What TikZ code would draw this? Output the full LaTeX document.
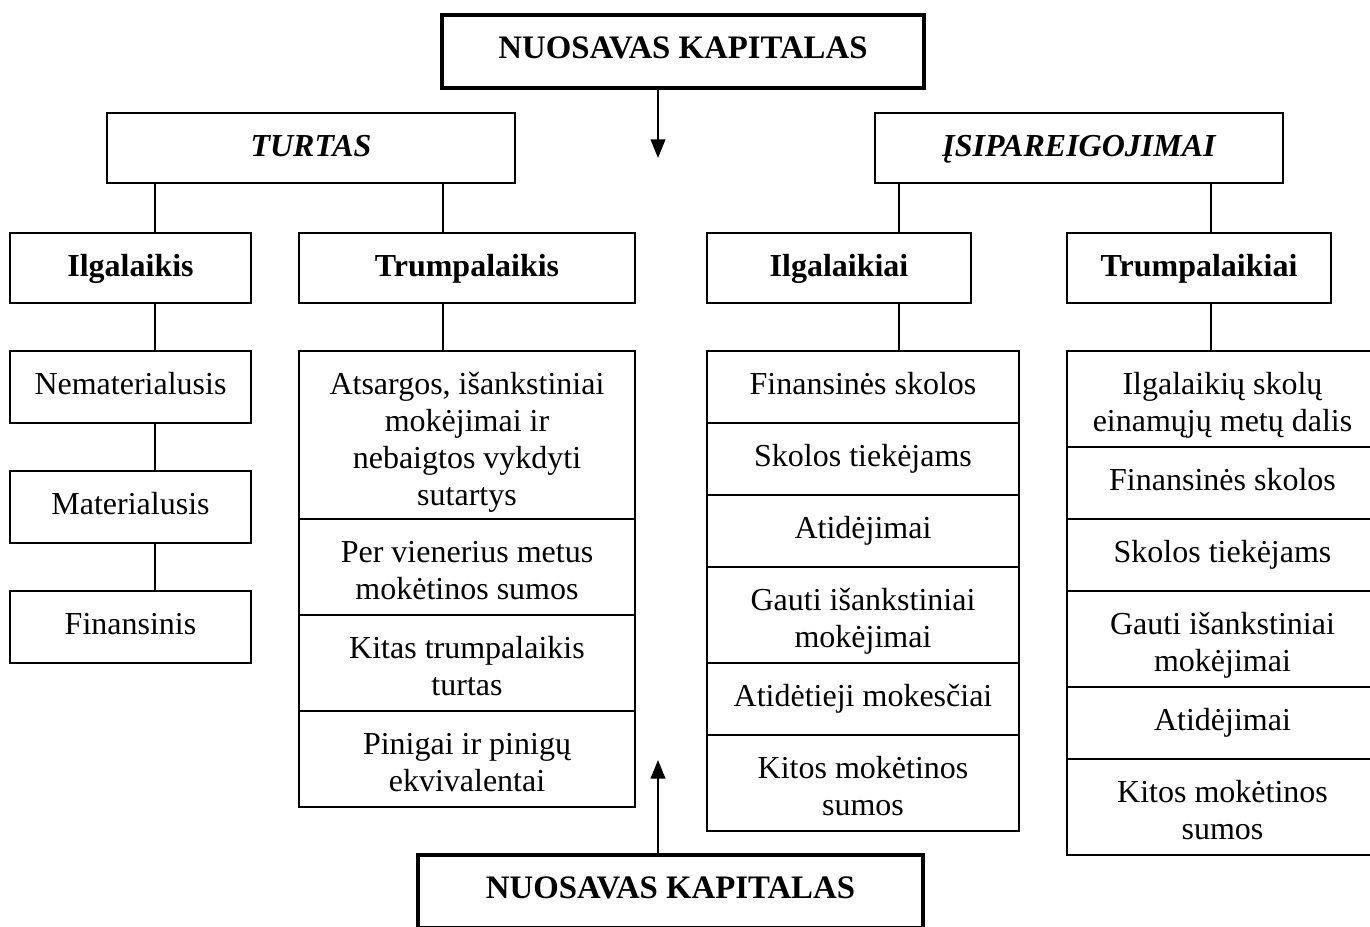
\documentclass[tikz,border=0pt]{standalone}
\usepackage{fontspec}
\setmainfont{Liberation Serif}
\usetikzlibrary{arrows.meta}
\begin{document}
\begin{tikzpicture}[x=0.75pt,y=-0.75pt,
  pbox/.style 2 args={draw, line width=1.5pt, inner sep=0pt, outer sep=0pt,
    minimum width=#1*0.75pt, minimum height=#2*0.75pt},
  capbox/.style 2 args={pbox={#1}{#2}, line width=3pt},
  txt/.style={anchor=north, inner sep=0pt, outer sep=0pt, align=center,
    yshift=-13.2pt, font=\fontsize{24}{27.75}\selectfont},
  headtxt/.style={txt, font=\fontsize{24}{27.75}\selectfont\bfseries},
  grouptxt/.style={txt, font=\fontsize{24}{27.75}\selectfont\bfseries\itshape},
  captxt/.style={txt, font=\fontsize{24.6}{27.75}\selectfont\bfseries},
  link/.style={line width=1.5pt},
  arr/.style={line width=1.5pt, -{Triangle[width=11pt,length=14pt]}}]
\useasboundingbox (0,0) rectangle (1370,926);

% equity boxes
\node[capbox={482}{73}] (top) at (683,51.5) {};
\node[captxt] (topt) at (top.north) {\strut NUOSAVAS KAPITALAS};
\node[capbox={505}{73}] (bot) at (670.5,891.5) {};
\node[captxt] (bott) at (bot.north) {\strut NUOSAVAS KAPITALAS};

% main groups
\node[pbox={408}{70}] (turtas) at (311,148) {};
\node[grouptxt] (turtast) at (turtas.north) {\strut TURTAS};
\node[pbox={408}{70}] (isip) at (1079,148) {};
\node[grouptxt] (isipt) at (isip.north) {\strut ĮSIPAREIGOJIMAI};

% sub groups
\node[pbox={241}{70}] (ilg) at (130.5,268) {};
\node[headtxt] (ilgt) at (ilg.north) {\strut Ilgalaikis};
\node[pbox={336}{70}] (trump) at (467,268) {};
\node[headtxt] (trumpt) at (trump.north) {\strut Trumpalaikis};
\node[pbox={264}{70}] (ilgai) at (839,268) {};
\node[headtxt] (ilgait) at (ilgai.north) {\strut Ilgalaikiai};
\node[pbox={264}{70}] (trumpai) at (1199,268) {};
\node[headtxt] (trumpait) at (trumpai.north) {\strut Trumpalaikiai};

% long-term assets
\node[pbox={241}{72}] (nemat) at (130.5,387) {};
\node[txt] (nematt) at (nemat.north) {\strut Nematerialusis};
\node[pbox={241}{72}] (mat) at (130.5,507) {};
\node[txt] (matt) at (mat.north) {\strut Materialusis};
\node[pbox={241}{72}] (fin) at (130.5,627) {};
\node[txt] (fint) at (fin.north) {\strut Finansinis};

% short-term assets
\node[pbox={336}{168}] (a1) at (467,435) {};
\node[txt] (a1t) at (a1.north) {\strut Atsargos, išankstiniai\\mokėjimai ir\\nebaigtos vykdyti\\sutartys};
\node[pbox={336}{96}] (a2) at (467,567) {};
\node[txt] (a2t) at (a2.north) {\strut Per vienerius metus\\mokėtinos sumos};
\node[pbox={336}{96}] (a3) at (467,663) {};
\node[txt] (a3t) at (a3.north) {\strut Kitas trumpalaikis\\turtas};
\node[pbox={336}{96}] (a4) at (467,759) {};
\node[txt] (a4t) at (a4.north) {\strut Pinigai ir pinigų\\ekvivalentai};

% long-term liabilities
\node[pbox={312}{72}] (b1) at (863,387) {};
\node[txt] (b1t) at (b1.north) {\strut Finansinės skolos};
\node[pbox={312}{72}] (b2) at (863,459) {};
\node[txt] (b2t) at (b2.north) {\strut Skolos tiekėjams};
\node[pbox={312}{72}] (b3) at (863,531) {};
\node[txt] (b3t) at (b3.north) {\strut Atidėjimai};
\node[pbox={312}{96}] (b4) at (863,615) {};
\node[txt] (b4t) at (b4.north) {\strut Gauti išankstiniai\\mokėjimai};
\node[pbox={312}{72}] (b5) at (863,699) {};
\node[txt] (b5t) at (b5.north) {\strut Atidėtieji mokesčiai};
\node[pbox={312}{96}] (b6) at (863,783) {};
\node[txt] (b6t) at (b6.north) {\strut Kitos mokėtinos\\sumos};

% short-term liabilities
\node[pbox={311}{96}] (c1) at (1222.5,399) {};
\node[txt] (c1t) at (c1.north) {\strut Ilgalaikių skolų\\einamųjų metų dalis};
\node[pbox={311}{72}] (c2) at (1222.5,483) {};
\node[txt] (c2t) at (c2.north) {\strut Finansinės skolos};
\node[pbox={311}{72}] (c3) at (1222.5,555) {};
\node[txt] (c3t) at (c3.north) {\strut Skolos tiekėjams};
\node[pbox={311}{96}] (c4) at (1222.5,639) {};
\node[txt] (c4t) at (c4.north) {\strut Gauti išankstiniai\\mokėjimai};
\node[pbox={311}{72}] (c5) at (1222.5,723) {};
\node[txt] (c5t) at (c5.north) {\strut Atidėjimai};
\node[pbox={311}{96}] (c6) at (1222.5,807) {};
\node[txt] (c6t) at (c6.north) {\strut Kitos mokėtinos\\sumos};

% connector columns
\coordinate (xl) at (155,0);
\coordinate (xs) at (443,0);
\coordinate (xll) at (899,0);
\coordinate (xls) at (1211,0);
\coordinate (xa) at (658,0);
\coordinate (downtip) at (658,158);
\coordinate (uptip) at (658,760);

\draw[link] (turtas.south -| xl) -- (ilg.north -| xl);
\draw[link] (turtas.south -| xs) -- (trump.north -| xs);
\draw[link] (isip.south -| xll) -- (ilgai.north -| xll);
\draw[link] (isip.south -| xls) -- (trumpai.north -| xls);

\draw[link] (ilg.south -| xl) -- (nemat.north -| xl);
\draw[link] (nemat.south -| xl) -- (mat.north -| xl);
\draw[link] (mat.south -| xl) -- (fin.north -| xl);
\draw[link] (trump.south -| xs) -- (a1.north -| xs);
\draw[link] (ilgai.south -| xll) -- (b1.north -| xll);
\draw[link] (trumpai.south -| xls) -- (c1.north -| xls);

\draw[arr] (top.south -| xa) -- (downtip);
\draw[arr] (bot.north -| xa) -- (uptip);
\end{tikzpicture}
\end{document}
